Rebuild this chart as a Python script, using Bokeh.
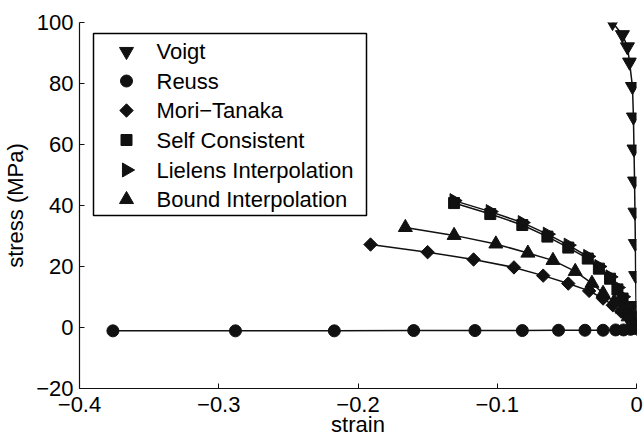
import math
from bokeh.plotting import figure
from bokeh.models import FixedTicker, CustomJSTickFormatter, BoxAnnotation, Label
from bokeh.embed import file_html
from bokeh.resources import INLINE

# ---- data ----
voigt_strain = [0, -0.0001, -0.0002, -0.0003, -0.0006, -0.0008, -0.0011, -0.0014, -0.0018, -0.0022, -0.0029, -0.0050, -0.0065, -0.0101, -0.0172]
voigt_stress = [0, 1.5, 3.5, 7.2, 17, 27.5, 37.8, 48, 58.5, 69, 79, 87, 92, 96, 100]

reuss_strain = [0, -0.0007, -0.0043, -0.0093, -0.015, -0.024, -0.037, -0.056, -0.082, -0.116, -0.160, -0.217, -0.288, -0.376]
reuss_stress = [0, -0.3, -0.6, -0.8, -0.8, -0.9, -0.9, -0.9, -1.0, -1.0, -1.0, -1.1, -1.1, -1.1]

mt_strain = [0, -0.001, -0.003, -0.006, -0.011, -0.017, -0.024, -0.034, -0.049, -0.067, -0.088, -0.117, -0.150, -0.191]
mt_stress = [0, 0.6, 1.7, 3.3, 5.2, 7.3, 9.5, 12.0, 14.4, 17.0, 19.7, 22.3, 24.7, 27.2]

sc_strain = [0, -0.001, -0.003, -0.006, -0.010, -0.0137, -0.019, -0.027, -0.035, -0.049, -0.064, -0.082, -0.105, -0.131]
sc_stress = [0, 1.0, 3.5, 6.5, 9.5, 12.5, 16.0, 19.3, 22.6, 26.2, 29.8, 33.6, 37.2, 40.8]

lie_strain = [0, -0.001, -0.003, -0.006, -0.010, -0.0137, -0.019, -0.027, -0.035, -0.049, -0.064, -0.082, -0.105, -0.131]
lie_stress = [0, 1.2, 3.9, 7.0, 10.1, 13.1, 16.6, 20.0, 23.3, 27.0, 30.6, 34.4, 38.0, 41.6]

bi_strain = [0, -0.001, -0.003, -0.006, -0.010, -0.016, -0.024, -0.032, -0.044, -0.060, -0.078, -0.101, -0.131, -0.166]
bi_stress = [0, 0.6, 1.8, 3.5, 6.0, 8.5, 11.2, 14.5, 18.4, 22.0, 24.4, 27.4, 30.2, 32.8]

series_names = ["Voigt", "Reuss", "Mori\u2212Tanaka", "Self Consistent", "Lielens Interpolation", "Bound Interpolation"]

x_ticks = [-0.4, -0.3, -0.2, -0.1, 0]
y_ticks = [-20, 0, 20, 40, 60, 80, 100]
x_lim = (-0.4, 0)
y_lim = (-20, 100)
x_title = "strain"
y_title = "stress (MPa)"

FONT = "Liberation Sans"
FS = "22px"
INK = "#111111"

# frame geometry (pixels)
W, H = 643, 440
FL, FR, FT, FB = 79, 7, 22, 52
FW, FH = W - FL - FR, H - FT - FB

p = figure(width=W, height=H, x_range=x_lim, y_range=y_lim,
           output_backend="svg", toolbar_location=None,
           min_border_left=FL, min_border_right=FR, min_border_top=FT, min_border_bottom=FB)
p.outline_line_color = None
p.xgrid.grid_line_color = None
p.ygrid.grid_line_color = None
p.background_fill_color = "white"
p.border_fill_color = "white"

for ax in (p.xaxis[0], p.yaxis[0]):
    ax.axis_line_color = INK
    ax.axis_line_width = 1.2
    ax.major_tick_line_color = INK
    ax.major_tick_in = 5
    ax.major_tick_out = 0
    ax.minor_tick_line_color = None
    ax.major_label_text_font = FONT
    ax.major_label_text_font_size = FS
    ax.major_label_text_color = "black"
    ax.axis_label_text_font = FONT
    ax.axis_label_text_font_size = FS
    ax.axis_label_text_font_style = "normal"
    ax.axis_label_text_color = "black"

p.xaxis[0].ticker = FixedTicker(ticks=x_ticks)
p.yaxis[0].ticker = FixedTicker(ticks=y_ticks)
p.xaxis[0].formatter = CustomJSTickFormatter(code="""
if (Math.abs(tick) < 1e-9) return '0';
return (tick < 0 ? '\u2212' : '') + Math.abs(tick).toFixed(1);
""")
p.yaxis[0].formatter = CustomJSTickFormatter(code="""
return (tick < 0 ? '\u2212' : '') + Math.abs(tick).toFixed(0);
""")
p.xaxis[0].axis_label = x_title
p.yaxis[0].axis_label = y_title
p.xaxis[0].major_label_standoff = 8
p.xaxis[0].axis_label_standoff = -3
p.yaxis[0].major_label_standoff = 6
p.yaxis[0].axis_label_standoff = 5

LW = 1.5

def add_series(xs, ys, marker, size, angle=0.0):
    p.line(xs, ys, line_color=INK, line_width=LW)
    p.scatter(xs, ys, marker=marker, size=size, angle=angle,
              fill_color=INK, line_color=INK, line_width=1)

add_series(voigt_strain, voigt_stress, "inverted_triangle", 14)
add_series(reuss_strain, reuss_stress, "circle", 12)
add_series(mt_strain, mt_stress, "square", 9.5, angle=math.pi / 4)
add_series(sc_strain, sc_stress, "square", 11)
add_series(lie_strain, lie_stress, "triangle", 14, angle=-math.pi / 2)
add_series(bi_strain, bi_stress, "triangle", 14)

# ---- legend (drawn by hand so marker rotation is kept) ----
def dx(px):
    return x_lim[0] + (px - FL) / FW * (x_lim[1] - x_lim[0])

def dy(py):
    return y_lim[1] - (py - FT) / FH * (y_lim[1] - y_lim[0])

box = BoxAnnotation(left=dx(93), right=dx(366), top=dy(33), bottom=dy(215),
                    fill_color="white", fill_alpha=1.0,
                    line_color="black", line_alpha=1.0, line_width=1.5, level="annotation")
p.add_layout(box)

leg_markers = [("inverted_triangle", 14, 0.0), ("circle", 12, 0.0), ("square", 9.5, math.pi / 4),
               ("square", 11, 0.0), ("triangle", 14, -math.pi / 2), ("triangle", 14, 0.0)]
row_y = [51, 80.5, 110, 139.5, 169.5, 199]
for (mk, sz, ang), yy, name in zip(leg_markers, row_y, series_names):
    r = p.scatter([dx(126)], [dy(yy)], marker=mk, size=sz, angle=ang,
                  fill_color=INK, line_color=INK, line_width=1)
    r.level = "overlay"
    lab = Label(x=dx(156), y=dy(yy), text=name, text_font=FONT, text_font_size=FS,
                text_color="black", text_baseline="middle", text_align="left", level="overlay")
    p.add_layout(lab)

open("out.html", "w").write(file_html(p, INLINE))
